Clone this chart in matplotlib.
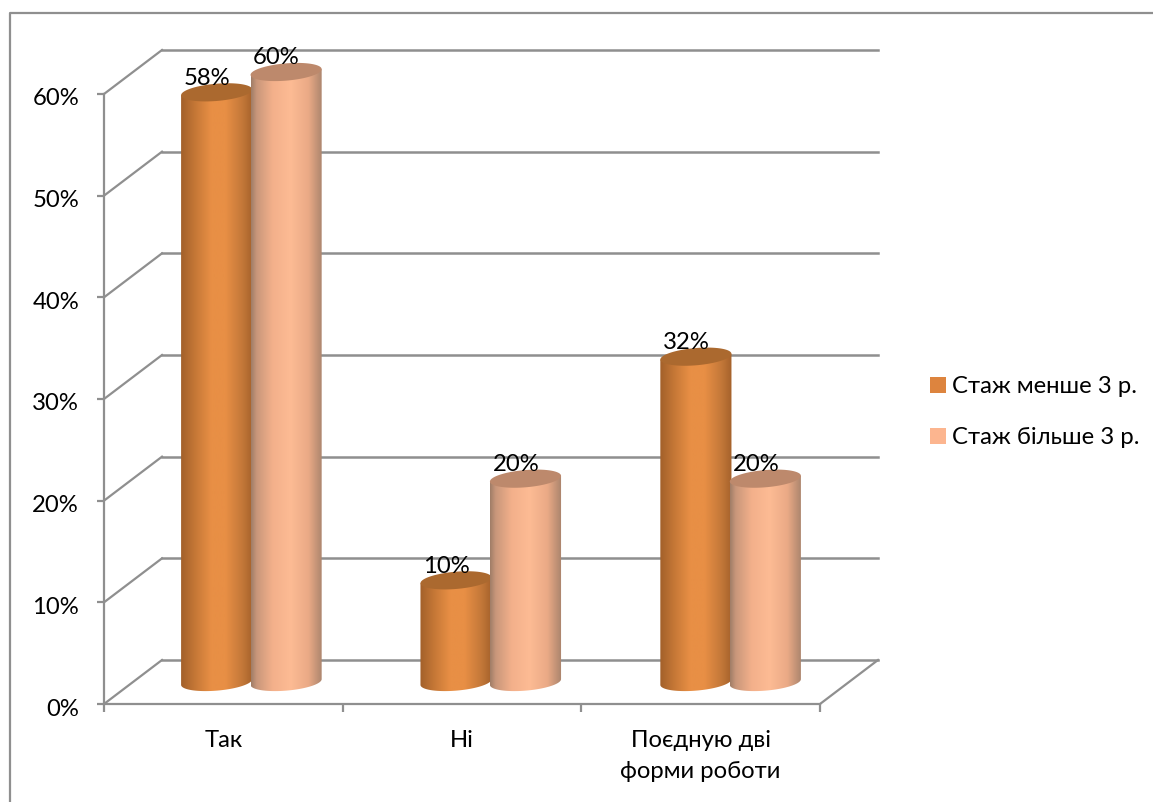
#!/usr/bin/env python3
# -*- coding: utf-8 -*-

"""
Clustered cylinder chart with an oblique 3D floor and back wall.
"""

import numpy as np
import matplotlib
matplotlib.use('Agg')
import matplotlib.pyplot as plt
from matplotlib.colors import LinearSegmentedColormap
from matplotlib.lines import Line2D
from matplotlib.patches import PathPatch, Patch, Polygon
from matplotlib.path import Path
from matplotlib.transforms import ScaledTranslation

categories = ['Так', 'Ні', 'Поєдную дві\nформи роботи']
series_names = ['Стаж менше 3 р.', 'Стаж більше 3 р.']
short_exp = [58, 10, 32]
long_exp = [60, 20, 20]
y_ticks = [0, 10, 20, 30, 40, 50, 60]
y_tick_labels = ['0%', '10%', '20%', '30%', '40%', '50%', '60%']

W, H = 1153, 802
GREY = '#8f8f8f'
plt.rcParams['font.family'] = ['Lato', 'Open Sans', 'DejaVu Sans']
FS = 17.2

fig = plt.figure(figsize=(W / 100, H / 100), dpi=100)
ax = fig.add_axes([104 / W, (H - 704) / H, 716 / W, 610 / H])
ax.set_xlim(0, 3)
ax.set_ylim(0, 60)
ax.set_facecolor('none')

# depth of the floor in data units
DX = 58 / (716 / 3)
DY = 44 / (610 / 60)

# back wall, side wall and floor
for v in y_ticks:
    ax.plot([0, DX], [v, v + DY], color=GREY, lw=1.6, clip_on=False, zorder=1)
    ax.plot([DX, 3 + DX], [v + DY, v + DY], color=GREY, lw=1.8, clip_on=False, zorder=1)
ax.plot([3, 3 + DX], [0, DY], color=GREY, lw=1.6, clip_on=False, zorder=1)

for name in ['top', 'right']:
    ax.spines[name].set_visible(False)
for name in ['left', 'bottom']:
    ax.spines[name].set_color(GREY)
    ax.spines[name].set_linewidth(1.6)

ax.set_yticks(y_ticks)
ax.set_yticklabels(y_tick_labels, fontsize=FS)
ax.tick_params(axis='y', color=GREY, width=1.6, length=5, pad=13)
# the percent labels sit a little under their ticks
for lbl in ax.get_yticklabels():
    lbl.set_transform(lbl.get_transform() + ScaledTranslation(0, -3 / 100, fig.dpi_scale_trans))
ax.set_xticks([0, 1, 2, 3])
ax.set_xticklabels([])
ax.tick_params(axis='x', which='major', color=GREY, width=1.6, length=6)
ax.set_xticks([0.5, 1.5, 2.5], minor=True)
ax.set_xticklabels(categories, minor=True, fontsize=FS, linespacing=1.58)
ax.tick_params(axis='x', which='minor', length=0, pad=18.5)


def shade(stops):
    return LinearSegmentedColormap.from_list('shade', stops)


orange = shade([(0, '#a2602a'), (0.22, '#c97a38'), (0.42, '#e88f45'), (0.62, '#e88f45'),
                (0.85, '#c47839'), (1, '#a5622b')])
peach = shade([(0, '#a07d67'), (0.08, '#c9977b'), (0.3, '#f3b08b'), (0.55, '#fdbb94'),
               (0.8, '#eaaa86'), (1, '#a8836c')])

A = 0.149  # half width of a cylinder
B = 0.85   # half height of its ellipse
S = 0.28   # ellipse tilt
GAP = 0.291
BASE = DY / 2
SLOTS = [0.472, 1.475, 2.48]  # first cylinder of each group
GRAD = np.linspace(0, 1, 256).reshape(1, -1)


def ellipse(cx, cy, t):
    return cx + A * np.cos(t), cy + B * np.sin(t) + S * np.cos(t)


def cylinder(cx, value, cmap, cap):
    top = value + BASE
    # body: sides plus the lower half of the base ellipse
    t = np.linspace(np.pi, 2 * np.pi, 60)
    xs, ys = ellipse(cx, BASE, t)
    xs = np.r_[xs, cx + A, cx - A]
    ys = np.r_[ys, top + S, top - S]
    patch = PathPatch(Path(np.c_[xs, ys], closed=False), fc='none', ec='none',
                      transform=ax.transData, zorder=3, clip_on=False)
    ax.add_patch(patch)
    im = ax.imshow(GRAD, extent=(cx - A, cx + A, BASE - 2, top + 2), aspect='auto', cmap=cmap,
                   interpolation='bilinear', zorder=3)
    im.set_clip_box(fig.bbox)
    im.set_clip_path(patch)
    # top cap
    t = np.linspace(0, 2 * np.pi, 90)
    xs, ys = ellipse(cx, top, t)
    ax.add_patch(Polygon(np.c_[xs, ys], closed=True, fc=cap, ec='none', zorder=3, clip_on=False))


for i in range(3):
    cx1 = SLOTS[i]
    cx2 = cx1 + GAP
    cylinder(cx1, short_exp[i], orange, '#ab692f')
    cylinder(cx2, long_exp[i], peach, '#bd896c')
    ax.text(cx1 - 0.04, short_exp[i] + BASE + 0.35, f'{short_exp[i]}%', ha='center', va='bottom',
            fontsize=FS, clip_on=False, zorder=5)
    ax.text(cx2 - 0.04, long_exp[i] + BASE + 0.35, f'{long_exp[i]}%', ha='center', va='bottom',
            fontsize=FS, clip_on=False, zorder=5)

ax.set_xlim(0, 3)
ax.set_ylim(0, 60)

# outer chart frame, cut by the edge of the canvas on two sides
fig.add_artist(Line2D([10 / W, 10 / W, 1], [0, (H - 13) / H, (H - 13) / H], color=GREY, lw=1.6))

handles = [Patch(fc='#dd843e', ec='none'), Patch(fc='#fcb58f', ec='none')]
fig.legend(handles, series_names, loc='center left', bbox_to_anchor=(923 / W, (H - 412) / H),
           frameon=False, fontsize=FS, handlelength=0.65, handleheight=0.65, handletextpad=0.25,
           labelspacing=1.25, borderaxespad=0, borderpad=0.3)

fig.savefig('out.png', dpi=100)
